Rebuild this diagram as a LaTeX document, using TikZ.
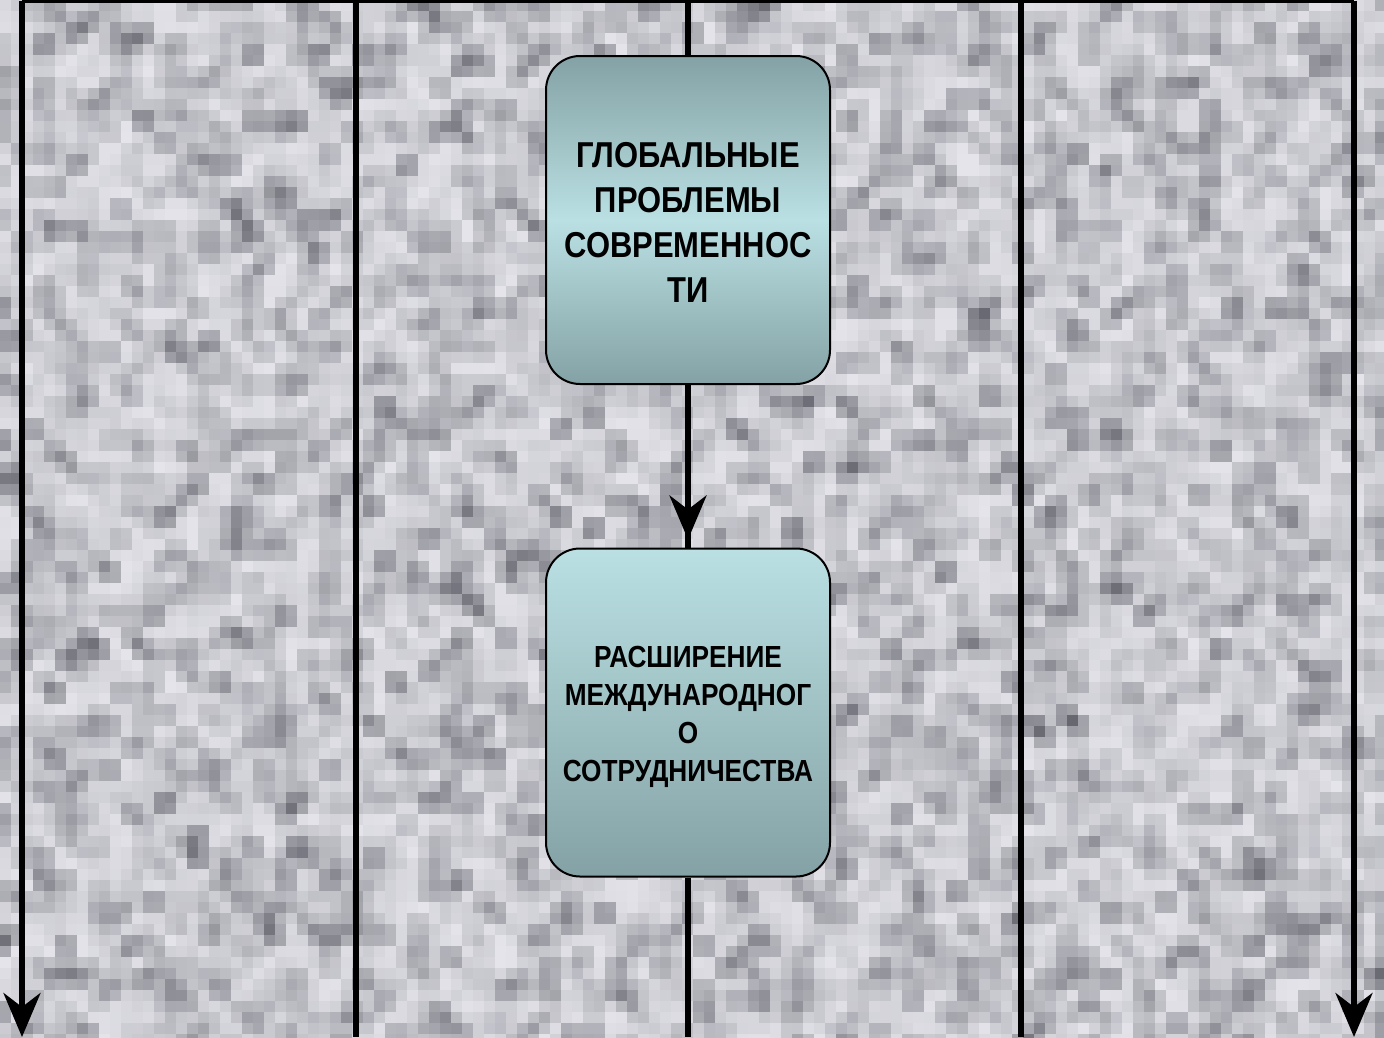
\documentclass[tikz,border=0pt]{standalone}
\usepackage{fontspec}
\setmainfont{Liberation Sans}[FakeStretch=0.86]
\usetikzlibrary{arrows.meta,calc}
\definecolor{bglight}{RGB}{228,228,234}
\definecolor{bgdark}{RGB}{88,88,98}
\definecolor{boxdark}{RGB}{132,162,165}
\definecolor{boxlight}{RGB}{186,224,227}
\tikzset{
  flowbox/.style={draw=black, line width=2pt, rounded corners=34pt,
    minimum width=284pt, minimum height=328pt, align=center, inner sep=4pt},
  conn/.style={line width=5.5pt, draw=black},
  arr/.style={conn, -{Stealth[length=44pt,width=37pt,inset=14pt]}},
  bigtext/.style={font=\fontsize{36}{45}\selectfont\bfseries},
  smalltext/.style={font=\fontsize{30.5}{38}\selectfont\bfseries}
}
\begin{document}
\begin{tikzpicture}[x=1pt,y=-1pt]
\useasboundingbox (0,0) rectangle (1384,1037);
% textured background
\begin{scope}
\clip (0,0) rectangle (1384,1037);
\pgfmathsetseed{7}
\foreach \i in {0,...,63}{
  \foreach \j in {0,...,47}{
    \pgfmathsetmacro\v{int(100*rnd*rnd)}
    \fill[bgdark!\v!bglight] (\i*22,\j*22) rectangle ++(22.5,22.5);
  }
}
\foreach \i in {0,...,63}{
  \foreach \j in {0,...,47}{
    \pgfmathsetmacro\v{int(100*rnd*rnd)}
    \fill[bgdark!\v!bglight, opacity=0.5] (\i*22-11,\j*22-11) rectangle ++(22,22);
  }
}
\end{scope}
% boxes
\node[flowbox, bigtext, top color=boxdark, bottom color=boxdark, middle color=boxlight] (g) at (688,220) {\parbox{270pt}{\vspace*{4pt}\centering ГЛОБАЛЬНЫЕ\\ПРОБЛЕМЫ\\СОВРЕМЕННОС\\ТИ}};
\node[flowbox, smalltext, top color=boxlight, bottom color=boxdark] (r) at (688,712.5) {\parbox{275pt}{\vspace*{8pt}\centering РАСШИРЕНИЕ\\МЕЖДУНАРОДНОГ\\О\\СОТРУДНИЧЕСТВА}};
% free ends
\coordinate (t1) at (22,0.5);
\coordinate (t2) at (356,0.5);
\coordinate (t3) at (688,0.5);
\coordinate (t4) at (1021,0.5);
\coordinate (t5) at (1354,0.5);
\coordinate (b1) at (22,1037);
\coordinate (b2) at (356,1037);
\coordinate (b3) at (688,1037);
\coordinate (b4) at (1021,1037);
\coordinate (b5) at (1354,1037);
% connectors
\draw[conn] (t1) -- (t5);
\draw[arr] (t1) -- (b1);
\draw[conn] (t2) -- (b2);
\draw[conn] (t3) -- (g.north);
\draw[conn] (g.south) -- (r.north);
\draw[arr, shorten >=8pt] (g.south) -- (r.north);
\draw[conn] (r.south) -- (b3);
\draw[conn] (t4) -- (b4);
\draw[arr] (t5) -- (b5);
\end{tikzpicture}
\end{document}
